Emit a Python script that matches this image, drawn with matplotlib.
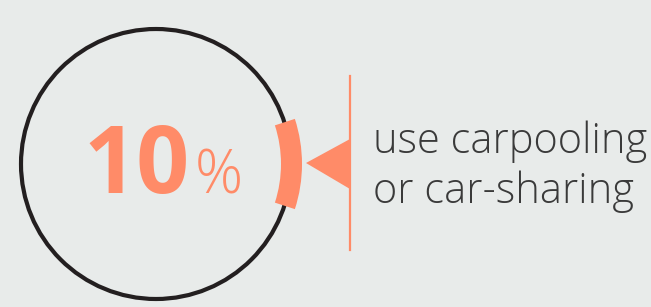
import matplotlib
matplotlib.use('Agg')
import matplotlib.pyplot as plt
from matplotlib.patches import Circle, Wedge, Polygon

# Data
share_pct = 10
label_lines = ['use carpooling', 'or car-sharing']

orange = '#ff8b68'
dark = '#231f20'
bg = '#e8ebea'

fig = plt.figure(figsize=(6.51, 3.07), dpi=100)
fig.patch.set_facecolor(bg)
ax = fig.add_axes([0, 0, 1, 1])
ax.set_facecolor(bg)
ax.set_xlim(0, 651)
ax.set_ylim(307, 0)
ax.set_aspect('equal')
ax.axis('off')

# ring
cx, cy, r = 156, 164, 135
ax.add_patch(Circle((cx, cy), r, fill=False, edgecolor=dark, linewidth=3))

# highlighted share, centred on the right side of the ring
span = 360 * share_pct / 100
ax.add_patch(Wedge((cx, cy), r + 11, -span / 2, span / 2, width=21,
                   facecolor=orange, edgecolor='none'))

# pointer and divider
ax.add_patch(Polygon([(306, 163), (350, 139), (350, 189)], closed=True,
                     facecolor=orange, edgecolor='none'))
ax.plot([350, 350], [76, 250], color=orange, linewidth=1.6)

# value text
ax.text(190, 193, f'{share_pct}', ha='right', va='baseline', color=orange,
        fontsize=67, fontweight='bold', family='Open Sans')
ax.text(195, 193, '%', ha='left', va='baseline', color=orange,
        fontsize=43, fontweight='light', family='Open Sans')

txt = dict(ha='left', va='baseline', color='#3a3a3a',
           fontsize=30, fontweight='light', family='Open Sans')
ax.text(373, 153, label_lines[0], **txt)
ax.text(373, 203, label_lines[1], **txt)

fig.savefig('out.png', dpi=100, facecolor=bg)
